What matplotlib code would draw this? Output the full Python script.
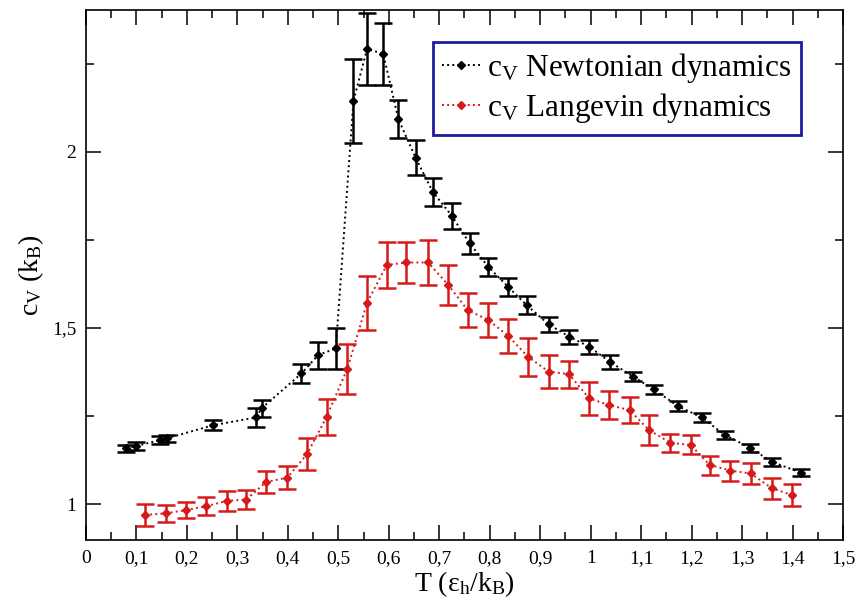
import numpy as np
import matplotlib
matplotlib.use("Agg")
import matplotlib.pyplot as plt
from matplotlib.ticker import MultipleLocator
from matplotlib.lines import Line2D

plt.rcParams['font.family'] = ['Liberation Serif', 'DejaVu Serif']
plt.rcParams['mathtext.fontset'] = 'custom'
plt.rcParams['mathtext.rm'] = 'Liberation Serif'
plt.rcParams['mathtext.it'] = 'Liberation Serif:italic'

# Newtonian dynamics
T_newton = [0.08, 0.10, 0.147, 0.161, 0.252, 0.337, 0.348, 0.427, 0.46, 0.495,
            0.53, 0.557, 0.589, 0.619, 0.653, 0.687, 0.725, 0.76, 0.797, 0.837,
            0.873, 0.917, 0.958, 0.997, 1.038, 1.084, 1.125, 1.173, 1.22, 1.266,
            1.316, 1.359, 1.417]
cv_newton = [1.158, 1.165, 1.182, 1.187, 1.224, 1.246, 1.272, 1.371, 1.423, 1.442,
             2.145, 2.293, 2.278, 2.093, 1.984, 1.887, 1.818, 1.741, 1.674, 1.616,
             1.565, 1.51, 1.475, 1.447, 1.404, 1.362, 1.326, 1.278, 1.246, 1.196,
             1.16, 1.12, 1.089]
err_newton = [0.011, 0.011, 0.01, 0.01, 0.014, 0.026, 0.025, 0.028, 0.038, 0.057,
              0.119, 0.102, 0.088, 0.053, 0.05, 0.04, 0.036, 0.03, 0.026, 0.025,
              0.026, 0.02, 0.02, 0.02, 0.019, 0.013, 0.013, 0.014, 0.013, 0.011,
              0.011, 0.011, 0.01]

# Langevin dynamics
T_lang = [0.117, 0.159, 0.198, 0.238, 0.279, 0.318, 0.357, 0.399, 0.438, 0.477,
          0.518, 0.557, 0.596, 0.635, 0.678, 0.718, 0.756, 0.797, 0.837, 0.876,
          0.917, 0.957, 0.997, 1.037, 1.077, 1.116, 1.158, 1.198, 1.236, 1.277,
          1.317, 1.359, 1.398]
cv_lang = [0.969, 0.974, 0.983, 0.994, 1.009, 1.013, 1.063, 1.075, 1.142, 1.248,
           1.385, 1.572, 1.679, 1.686, 1.686, 1.622, 1.551, 1.523, 1.477, 1.418,
           1.376, 1.369, 1.30, 1.281, 1.267, 1.21, 1.174, 1.168, 1.111, 1.095,
           1.087, 1.045, 1.026]
err_lang = [0.031, 0.024, 0.022, 0.026, 0.028, 0.028, 0.031, 0.033, 0.046, 0.051,
            0.071, 0.077, 0.065, 0.058, 0.065, 0.057, 0.047, 0.049, 0.048, 0.053,
            0.046, 0.038, 0.046, 0.04, 0.036, 0.043, 0.026, 0.027, 0.027, 0.028,
            0.031, 0.03, 0.03]

xticks = [0, 0.1, 0.2, 0.3, 0.4, 0.5, 0.6, 0.7, 0.8, 0.9, 1.0, 1.1, 1.2, 1.3, 1.4, 1.5]
xtick_labels = ["0", "0,1", "0,2", "0,3", "0,4", "0,5", "0,6", "0,7", "0,8", "0,9",
                "1", "1,1", "1,2", "1,3", "1,4", "1,5"]
yticks = [1, 1.5, 2]
ytick_labels = ["1", "1,5", "2"]

black = "black"
red = "#d61a1a"

fig = plt.figure(figsize=(8.57, 6.12), dpi=100)
ax = fig.add_axes([0.1003, 0.1176, 0.8834, 0.8661])

for T, cv, err, col in [(T_newton, cv_newton, err_newton, black),
                        (T_lang, cv_lang, err_lang, red)]:
    ax.errorbar(T, cv, yerr=err, fmt="none", ecolor=col, elinewidth=1.8,
                capsize=6.5, capthick=1.8, zorder=2)
    ax.plot(T, cv, ls=":", lw=1.4, color=col, marker="D", ms=4, zorder=3)

ax.set_xlim(0, 1.5)
ax.set_ylim(0.898, 2.403)
ax.set_xticks(xticks)
ax.set_xticklabels(xtick_labels)
ax.set_yticks(yticks)
ax.set_yticklabels(ytick_labels)
ax.xaxis.set_minor_locator(MultipleLocator(0.05))
ax.yaxis.set_minor_locator(MultipleLocator(0.25))
ax.tick_params(which="both", direction="in", top=True, right=True,
               labelsize=14, width=1.1)
ax.tick_params(which="major", length=11, pad=7)
ax.tick_params(which="minor", length=6)
for sp in ax.spines.values():
    sp.set_linewidth(1.2)

ax.set_xlabel(r"T ($\mathrm{\varepsilon_h/k_B}$)", fontsize=20, labelpad=2)
ax.set_ylabel(r"$\mathrm{c_V}$ ($\mathrm{k_B}$)", fontsize=20, labelpad=4)

handles = [Line2D([], [], ls=":", lw=1.4, color=black, marker="D", ms=4),
           Line2D([], [], ls=":", lw=1.4, color=red, marker="D", ms=4)]
labels = [r"$\mathrm{c_V}$ Newtonian dynamics", r"$\mathrm{c_V}$ Langevin dynamics"]
leg = ax.legend(handles, labels, loc="upper left", bbox_to_anchor=(0.458, 0.94),
                fontsize=22.5, frameon=True, fancybox=False, framealpha=1,
                edgecolor="#1c1ca0", handlelength=1.2, handletextpad=0.25,
                borderpad=0.3, labelspacing=0.2, borderaxespad=0)
leg.get_frame().set_linewidth(2)

fig.savefig("out.png", dpi=100)
